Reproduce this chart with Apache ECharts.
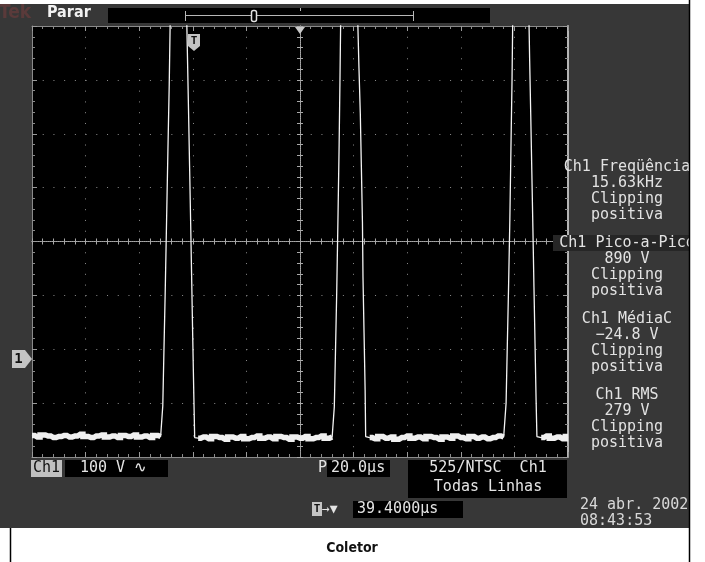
<!DOCTYPE html>
<html><head><meta charset="utf-8">
<script src="https://cdn.jsdelivr.net/npm/echarts@6/dist/echarts.min.js"></script>
<style>html,body{margin:0;padding:0;background:#fff}#c{width:705px;height:562px}</style>
</head><body><div id="c"></div>
<script>
// ---- axis ranges (time relative to screen centre: 20 µs/div; volts relative to screen centre: 100 V/div)
const timeRange = [-100, 100];
const timeStep = 20;
const voltRange = [-400, 400];
const voltStep = 100;

// ---- trace samples [µs, V]
const baseline1 = [[-100,-360],[-98,-363],[-96,-359],[-94,-361],[-92,-364],[-90,-362],[-88,-360],[-86,-363],[-84,-361],[-82,-358],[-80,-362],[-78,-364],[-76,-361],[-74,-359],[-72,-363],[-70,-361],[-68,-364],[-66,-360],[-64,-362],[-62,-359],[-60,-363],[-58,-361],[-56,-364],[-54,-360],[-52,-362]];
const pulse1 = [[-51.6,-362],[-51.2,-305],[-50.8,-210],[-50.3,-95],[-49.8,35],[-49.3,165],[-48.8,290],[-48.4,420],[-42.3,420],[-42.0,345],[-41.6,245],[-41.2,140],[-40.8,35],[-40.4,-75],[-40.0,-185],[-39.6,-290],[-39.3,-364]];
const baseline2 = [[-38,-365],[-36,-363],[-34,-366],[-32,-362],[-30,-364],[-28,-367],[-26,-363],[-24,-365],[-22,-362],[-20,-366],[-18,-364],[-16,-361],[-14,-365],[-12,-363],[-10,-366],[-8,-362],[-6,-364],[-4,-367],[-2,-363],[0,-365],[2,-362],[4,-366],[6,-364],[8,-361],[10,-365],[12,-363]];
const pulse2 = [[12.4,-360],[12.8,-307],[13.2,-214],[13.7,-94],[14.2,53],[14.6,179],[14.9,294],[15.2,420],[21.4,420],[21.6,400],[22.0,322],[22.5,238],[22.9,138],[23.3,36],[23.5,-66],[23.9,-170],[24.3,-275],[24.5,-362]];
const baseline3 = [[26,-364],[28,-366],[30,-362],[32,-365],[34,-363],[36,-367],[38,-364],[40,-361],[42,-365],[44,-363],[46,-366],[48,-362],[50,-364],[52,-367],[54,-363],[56,-365],[58,-361],[60,-364],[62,-366],[64,-362],[66,-365],[68,-363],[70,-366],[72,-364],[74,-361],[76,-363]];
const pulse3 = [[76.5,-361],[76.9,-300],[77.3,-205],[77.8,-90],[78.3,40],[78.7,170],[79.1,295],[79.4,420],[85.4,420],[85.7,335],[86.1,235],[86.5,130],[86.9,25],[87.3,-85],[87.7,-190],[88.1,-295],[88.4,-362]];
const baseline4 = [[90,-364],[92,-361],[94,-365],[96,-363],[98,-366],[100,-362]];

// ---- readouts
const measurements = [
  ['Ch1 Freqüência', '15.63kHz', 'Clipping', 'positiva'],
  ['Ch1 Pico-a-Pico', '890 V', 'Clipping', 'positiva'],
  ['Ch1 MédiaC', '\u221224.8 V', 'Clipping', 'positiva'],
  ['Ch1 RMS', '279 V', 'Clipping', 'positiva']
];
const statusText = 'Parar';
const channelLabel = 'Ch1';
const scaleLabel = '100 V \u223F';
const timebaseLabel = '20.0\u00B5s';
const triggerLines = ['525/NTSC  Ch1', 'Todas Linhas'];
const triggerDelay = '39.4000\u00B5s';
const dateLines = ['24 abr. 2002', '08:43:53'];
const caption = 'Coletor';

const trace = [].concat(baseline1, pulse1, baseline2, pulse2, baseline3, pulse3, baseline4);
const baselines = [baseline1, baseline2, baseline3, baseline4];

const chart = echarts.init(document.getElementById('c'), null, {renderer: 'canvas'});
const NARROW = "'Liberation Sans Narrow','DejaVu Sans Condensed','Liberation Sans',sans-serif";
const MONO = "'DejaVu Sans Mono','Liberation Mono',monospace";
const TXT = '#e4e4e4';
const G = {left: 32, top: 26, width: 536, height: 431};

function baseAxis(range, step) {
  return {type: 'value', min: range[0], max: range[1], interval: step,
    axisLabel: {show: false}, splitLine: {show: false}, silent: true};
}
function centreAxis(range, step, position) {
  return Object.assign(baseAxis(range, step), {
    position: position,
    axisLine: {show: true, onZero: true, onZeroAxisIndex: 0, lineStyle: {color: '#a8a8a8', width: 1, type: [1, 1]}},
    axisTick: {show: true, length: 3, lineStyle: {color: '#a8a8a8'}},
    minorTick: {show: true, splitNumber: 5, length: 3, lineStyle: {color: '#a8a8a8'}}
  });
}
function frameAxis(range, step, position, w, col) {
  return Object.assign(baseAxis(range, step), {
    position: position,
    axisLine: {show: true, onZero: false, lineStyle: {color: col || '#8a8a8a', width: w || 1}},
    axisTick: {show: true, inside: true, length: 5, lineStyle: {color: '#9a9a9a'}},
    minorTick: {show: true, splitNumber: 5, length: 3, lineStyle: {color: '#8a8a8a'}}
  });
}

const xAxes = [
  Object.assign(centreAxis(timeRange, timeStep, 'bottom'), {
    splitLine: {show: true, lineStyle: {color: '#8c8c8c', width: 1, type: [1, 9.775]}}
  }),
  centreAxis(timeRange, timeStep, 'top'),
  frameAxis(timeRange, timeStep, 'top'),
  frameAxis(timeRange, timeStep, 'bottom')
];
const yAxes = [
  Object.assign(centreAxis(voltRange, voltStep, 'left'), {
    splitLine: {show: true, lineStyle: {color: '#8c8c8c', width: 1, type: [1, 9.72]}}
  }),
  centreAxis(voltRange, voltStep, 'right'),
  frameAxis(voltRange, voltStep, 'left'),
  frameAxis(voltRange, voltStep, 'right', 2, '#b4b4b4')
];

const series = [{
  type: 'line', name: 'Ch1', data: trace, xAxisIndex: 0, yAxisIndex: 0,
  showSymbol: false, symbol: 'none', clip: true, z: 5,
  lineStyle: {color: '#f4f4f4', width: 1.3}
}].concat(baselines.map(function (seg) {
  return {type: 'line', data: seg, xAxisIndex: 0, yAxisIndex: 0, showSymbol: false, step: 'middle',
    symbol: 'none', clip: true, z: 5, lineStyle: {color: '#f0f0f0', width: 5.5, join: 'miter'}};
}));

function txt(x, y, text, opt) {
  opt = opt || {};
  return {type: 'text', z: opt.z || 50, style: {
    x: x, y: y, text: text, fill: opt.fill || TXT,
    font: opt.font || ('15px ' + MONO),
    align: opt.align || 'left', textAlign: opt.align || 'left',
    verticalAlign: 'middle', textVerticalAlign: 'middle'
  }};
}
function rect(x, y, w, h, fill, z, extra) {
  return Object.assign({type: 'rect', z: z == null ? 40 : z, shape: {x: x, y: y, width: w, height: h},
    style: {fill: fill}}, extra || {});
}

const graphics = [
  // instrument panel
  rect(0, 4, 690, 524, '#373737', -20),
  rect(G.left, G.top, G.width, G.height, '#000', -10),
  txt(-1, 13, 'Tek', {fill: '#5a3a3a', font: 'bold 19px ' + NARROW}),
  txt(47, 13, statusText, {fill: '#f2f2f2', font: 'bold 16px ' + NARROW}),
  // header record bar
  rect(108, 8, 382, 15, '#000', 30),
  {type: 'line', z: 41, shape: {x1: 185, y1: 15.5, x2: 414, y2: 15.5}, style: {stroke: '#b8b8b8', lineWidth: 1}},
  {type: 'line', z: 41, shape: {x1: 185.5, y1: 11, x2: 185.5, y2: 21}, style: {stroke: '#b8b8b8', lineWidth: 1}},
  {type: 'line', z: 41, shape: {x1: 413.5, y1: 11, x2: 413.5, y2: 21}, style: {stroke: '#b8b8b8', lineWidth: 1}},
  {type: 'rect', z: 42, shape: {x: 251.5, y: 10.5, width: 5, height: 11, r: 2}, style: {fill: '#000', stroke: '#e0e0e0', lineWidth: 1.5}},
  {type: 'line', z: 41, shape: {x1: 300.5, y1: 8, x2: 300.5, y2: 11}, style: {stroke: '#b8b8b8', lineWidth: 1}},
  // trigger markers on the graticule
  {type: 'polygon', z: 60, shape: {points: [[295, 27], [305, 27], [300, 34]]}, style: {fill: '#c8c8c8'}},
  {type: 'polygon', z: 60, shape: {points: [[188, 34], [200, 34], [200, 46], [194, 51], [188, 46]]}, style: {fill: '#c4c4c4'}},
  txt(194, 41, 'T', {fill: '#111', font: 'bold 11px ' + MONO, align: 'center', z: 61}),
  // ground marker
  {type: 'polygon', z: 60, shape: {points: [[12, 350], [25, 350], [32, 359], [25, 368], [12, 368]]}, style: {fill: '#c4c4c4'}},
  txt(18.5, 359.5, '1', {fill: '#111', font: 'bold 14px ' + MONO, align: 'center', z: 61}),
  // bottom readouts
  rect(31, 460, 31, 17, '#c0c0c0'),
  txt(46.5, 468.5, channelLabel, {fill: '#111', align: 'center'}),
  rect(65, 460, 103, 17, '#000'),
  txt(80, 468.5, scaleLabel),
  txt(318, 468.5, 'P'),
  rect(327, 460, 63, 17, '#000'),
  txt(331, 468.5, timebaseLabel),
  rect(408, 460, 159, 38, '#000'),
  txt(488, 468.5, triggerLines[0], {align: 'center'}),
  txt(488, 487, triggerLines[1], {align: 'center'}),
  rect(312, 502, 10, 14, '#c4c4c4'),
  txt(317, 509.5, 'T', {fill: '#111', font: 'bold 11px ' + MONO, align: 'center', z: 61}),
  txt(322, 509.5, '\u2192\u25BC', {font: '13px ' + MONO}),
  rect(353, 501, 110, 17, '#000'),
  txt(357, 509.5, triggerDelay),
  txt(580, 505, dateLines[0], {fill: '#d8d8d8'}),
  txt(580, 521, dateLines[1], {fill: '#d8d8d8'}),
  // highlighted measurement title background
  rect(553, 235, 140, 16, '#262626', 45)
];
measurements.forEach(function (m, gi) {
  const y0 = 167 + gi * 76;
  m.forEach(function (line, li) {
    graphics.push(txt(627, y0 + li * 16, line, {align: 'center', fill: '#e2e2e2'}));
  });
});
graphics.push(
  rect(690, 0, 15, 562, '#fff', 200),
  rect(0, 0, 705, 4, '#fff', 200),
  rect(0, 528, 690, 34, '#fff', 200),
  {type: 'line', z: 201, shape: {x1: 10.5, y1: 528, x2: 10.5, y2: 562}, style: {stroke: '#000', lineWidth: 1.5}},
  {type: 'line', z: 201, shape: {x1: 689.5, y1: 0, x2: 689.5, y2: 562}, style: {stroke: '#000', lineWidth: 1.5}},
  txt(352, 548, caption, {fill: '#111', font: 'bold 14px ' + NARROW, align: 'center', z: 202})
);

chart.setOption({
  animation: false,
  backgroundColor: '#fff',
  grid: {left: G.left, top: G.top, width: G.width, height: G.height, containLabel: false},
  xAxis: xAxes,
  yAxis: yAxes,
  series: series,
  graphic: graphics
});
</script></body></html>
